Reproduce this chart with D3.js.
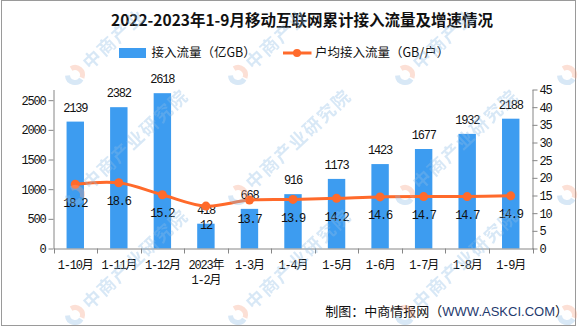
<!DOCTYPE html>
<html>
<head>
<meta charset="utf-8">
<script src="https://cdn.jsdelivr.net/npm/d3@7/dist/d3.min.js"></script>
<style>
  html, body { margin: 0; padding: 0; background: #fff; }
  svg { display: block; }
  .num { font-family: "Liberation Mono", "Noto Sans CJK SC", monospace; font-size: 12px; letter-spacing: -1.2px; fill: #111; }
  .cjk { font-family: "Noto Sans CJK SC", sans-serif; fill: #111; }
</style>
</head>
<body>
<svg id="chart" width="585" height="327"></svg>
<script>
// Monthly cumulative mobile internet traffic, Oct 2022 – Sep 2023
const categories = ["1-10月", "1-11月", "1-12月", "2023年\n1-2月", "1-3月", "1-4月", "1-5月", "1-6月", "1-7月", "1-8月", "1-9月"];
const traffic = [2139, 2382, 2618, 418, 668, 916, 1173, 1423, 1677, 1932, 2188];      // 亿GB
const perUser = [18.2, 18.6, 15.2, 12, 13.7, 13.9, 14.2, 14.6, 14.7, 14.7, 14.9];     // GB/户
const leftTicks = [0, 500, 1000, 1500, 2000, 2500];
const rightTicks = [0, 5, 10, 15, 20, 25, 30, 35, 40, 45];
const leftMax = 2680;
const rightMax = 45;

const titleText = "2022-2023年1-9月移动互联网累计接入流量及增速情况";
const seriesNames = ["接入流量（亿GB）", "户均接入流量（GB/户）"];
const watermarkText = "中商产业研究院";

const BAR = "#3d9cf0", LINE = "#ff6a2b", AXIS = "#868686";
const W = 585, H = 327;

const svg = d3.select("#chart");
const plot = { left: 53.5, right: 532.5, top: 89.5, bottom: 248.5 };

const x = d3.scaleBand().domain(categories).range([plot.left, plot.right]);
const yL = d3.scaleLinear().domain([0, leftMax]).range([plot.bottom, plot.top]);
const yR = d3.scaleLinear().domain([0, rightMax]).range([plot.bottom, plot.top]);

// frame
svg.append("rect").attr("x", 1.5).attr("y", 0.5).attr("width", 574).attr("height", 325)
  .attr("fill", "none").attr("stroke", "#9a9a9a");

// title
svg.append("text").attr("class", "cjk")
  .attr("x", 302).attr("y", 25.5).attr("text-anchor", "middle")
  .attr("font-size", 15.5).attr("font-weight", 700)
  .text(titleText);

// legend
const lg = svg.append("g");
lg.append("rect").attr("x", 119).attr("y", 48).attr("width", 27).attr("height", 10).attr("fill", BAR);
lg.append("text").attr("class", "cjk").attr("x", 151.5).attr("y", 57.3).attr("font-size", 12.5).text(seriesNames[0]);
lg.append("line").attr("x1", 283).attr("x2", 311.5).attr("y1", 53).attr("y2", 53)
  .attr("stroke", LINE).attr("stroke-width", 3);
lg.append("circle").attr("cx", 297).attr("cy", 53).attr("r", 4).attr("fill", LINE);
lg.append("text").attr("class", "cjk").attr("x", 315).attr("y", 57.3).attr("font-size", 12.5).text(seriesNames[1]);

// bars
const bw = x.bandwidth() * 0.4;
const cx = d => x(d) + x.bandwidth() / 2;
svg.append("g").selectAll("rect").data(categories).join("rect")
  .attr("x", (d) => cx(d) - bw / 2)
  .attr("y", (d, i) => yL(traffic[i]))
  .attr("width", bw)
  .attr("height", (d, i) => plot.bottom - yL(traffic[i]))
  .attr("fill", BAR);

// bar value labels
svg.append("g").selectAll("text").data(categories).join("text")
  .attr("class", "num").attr("text-anchor", "middle")
  .attr("x", d => cx(d))
  .attr("y", (d, i) => yL(traffic[i]) - 10)
  .text((d, i) => traffic[i]);

// axes
const gl = svg.append("g").attr("transform", `translate(${plot.left},0)`)
  .call(d3.axisLeft(yL).tickValues(leftTicks).tickFormat(d3.format("d")).tickSize(5).tickPadding(3).tickSizeOuter(0));
const gr = svg.append("g").attr("transform", `translate(${plot.right},0)`)
  .call(d3.axisRight(yR).tickValues(rightTicks).tickFormat(d3.format("d")).tickSize(5).tickPadding(2).tickSizeOuter(0));
[gl, gr].forEach(g => {
  g.select(".domain").attr("stroke", AXIS);
  g.selectAll(".tick line").attr("stroke", AXIS);
  g.selectAll(".tick text").attr("class", "num").attr("font-size", null).attr("font-family", null).attr("fill", "#111");
});

const gx = svg.append("g").attr("transform", `translate(0,${plot.bottom})`)
  .call(d3.axisBottom(x).tickSize(0).tickSizeOuter(0).tickFormat(""));
gx.select(".domain").attr("stroke", AXIS);
gx.selectAll(".tick text").remove();
// tick marks on category boundaries
const bounds = categories.map(d => x(d)).concat([plot.right]);
gx.append("g").selectAll("line").data(bounds).join("line")
  .attr("x1", d => Math.round(d) + 0.5).attr("x2", d => Math.round(d) + 0.5)
  .attr("y1", 0).attr("y2", 5).attr("stroke", AXIS);
// category labels (multi-line)
svg.append("g").selectAll("text").data(categories).join("text")
  .attr("class", "num").attr("text-anchor", "middle")
  .attr("x", d => cx(d)).attr("y", 269)
  .each(function (d) {
    const t = d3.select(this);
    d.split("\n").forEach((s, k) => {
      t.append("tspan").attr("x", cx(d)).attr("dy", k === 0 ? 0 : 14.5).text(s);
    });
  });

// per-user line (smoothed)
const pts = categories.map((d, i) => [cx(d), yR(perUser[i])]);
svg.append("path").attr("d", d3.line().curve(d3.curveCatmullRom.alpha(0.5))(pts))
  .attr("fill", "none").attr("stroke", LINE).attr("stroke-width", 3);
svg.append("g").selectAll("circle").data(pts).join("circle")
  .attr("cx", p => p[0]).attr("cy", p => p[1]).attr("r", 4.5).attr("fill", LINE);
svg.append("g").selectAll("text").data(categories).join("text")
  .attr("class", "num").attr("text-anchor", "middle")
  .attr("x", d => cx(d))
  .attr("y", (d, i) => yR(perUser[i]) + 22.5)
  .text((d, i) => perUser[i]);

// footer credit
const ft = svg.append("text").attr("class", "cjk").attr("x", 568).attr("y", 316)
  .attr("text-anchor", "end").attr("font-size", 13);
ft.append("tspan").text("制图：中商情报网（");
ft.append("tspan").attr("fill", "#1f3a6e").attr("font-family", "Liberation Sans, sans-serif").text("WWW.ASKCI.COM");
ft.append("tspan").text("）");

// diagonal watermark grid; glyphs placed one by one so only those inside the canvas are drawn
const wmCols = [-88, 75, 238, 405, 567];
const wmRows = [75, 195, 315, 435];
const ang = -43 * Math.PI / 180, ca = Math.cos(ang), sa = Math.sin(ang);
const inside = (px, py, m) => px > m && px < W - m && py > m && py < H - m;
const wm = svg.append("g").attr("opacity", 0.35).attr("pointer-events", "none");
const arc = d3.arc().innerRadius(5).outerRadius(10);
wmRows.forEach(ry => wmCols.forEach(rx => {
  if (inside(rx, ry, 0)) {
    const g = wm.append("g").attr("transform", `translate(${rx},${ry}) rotate(-43)`);
    g.append("path").attr("d", arc({ startAngle: 2.9, endAngle: 5.4 })).attr("fill", "#8fbde6");
    g.append("path").attr("d", arc({ startAngle: 0.2, endAngle: 2.7 })).attr("fill", "#f7a78a");
  }
  Array.from(watermarkText).forEach((ch, k) => {
    const lx = 23 + k * 19.5;
    const px = rx + lx * ca, py = ry + lx * sa;
    if (!inside(px, py, 15)) return;
    wm.append("text").attr("class", "cjk")
      .attr("transform", `translate(${px},${py}) rotate(-43)`)
      .attr("text-anchor", "middle").attr("y", 7)
      .attr("font-size", 18).attr("font-weight", 700)
      .style("fill", "#8fbde6").text(ch);
  });
}));
</script>
</body>
</html>
